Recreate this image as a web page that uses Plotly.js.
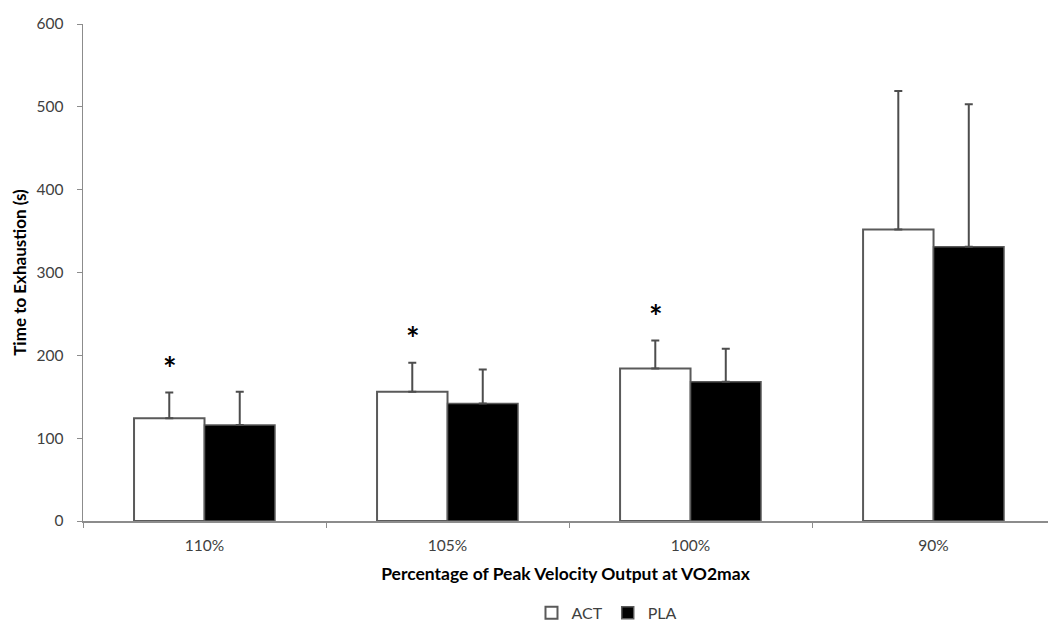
<!DOCTYPE html>
<html>
<head>
<meta charset="utf-8">
<script src="https://cdn.plot.ly/plotly-3.0.1.min.js"></script>
<style>html,body{margin:0;padding:0;background:#fff;}#chart{width:1048px;height:630px;}</style>
</head>
<body>
<div id="chart"></div>
<script>
const categories = ["110%", "105%", "100%", "90%"];
const actMean = [124, 156, 184, 352];
const actSD = [31, 35, 34, 167];
const plaMean = [116, 142, 168, 331];
const plaSD = [40, 41, 40, 172];
const significant = [true, true, true, false];

const FONT = "Lato, 'Open Sans', sans-serif";
const zeros = categories.map(() => 0);

const traces = [
  {
    type: "bar", name: "ACT", x: categories, y: actMean,
    marker: {color: "#ffffff", line: {color: "#5a5a5a", width: 2}},
    error_y: {type: "data", array: actSD, arrayminus: zeros, symmetric: false, color: "#4d4d4d", thickness: 2, width: 4}
  },
  {
    type: "bar", name: "PLA", x: categories, y: plaMean,
    marker: {color: "#000000", line: {color: "#5a5a5a", width: 1.5}},
    error_y: {type: "data", array: plaSD, arrayminus: zeros, symmetric: false, color: "#4d4d4d", thickness: 2, width: 4}
  }
];

const annotations = [];
categories.forEach((c, i) => {
  if (significant[i]) {
    annotations.push({
      x: c, y: actMean[i] + actSD[i], xref: "x", yref: "y",
      text: "<b>*</b>", showarrow: false, xshift: -35, yshift: 24,
      font: {family: FONT, size: 32, color: "#000"}
    });
  }
});

const layout = {
  width: 1048, height: 630,
  margin: {l: 83, r: 0, t: 24, b: 109},
  paper_bgcolor: "#fff", plot_bgcolor: "#fff",
  font: {family: FONT, color: "#595959", size: 15},
  barmode: "group", bargap: 0.42, bargroupgap: 0,
  showlegend: true,
  legend: {orientation: "h", x: 0.543, xanchor: "center", y: -0.185, yanchor: "middle",
           font: {family: FONT, size: 16, color: "#404040"}, traceorder: "normal", itemwidth: 30},
  xaxis: {
    type: "category", range: [-0.5, 3.471],
    showline: true, linecolor: "#8c8c8c", linewidth: 1.5,
    ticks: "outside", tickson: "boundaries", ticklen: 5, tickcolor: "#8c8c8c",
    showgrid: false, zeroline: false,
    ticklabelstandoff: 10,
    tickfont: {family: FONT, size: 15.5, color: "#404040"},
    title: {text: "Percentage of Peak Velocity Output at VO2max", font: {family: FONT, size: 17.5, color: "#000", weight: "bold"}, standoff: 14}
  },
  yaxis: {
    range: [0, 600], dtick: 100, tick0: 0,
    showline: true, linecolor: "#8c8c8c", linewidth: 1.5,
    ticks: "outside", ticklen: 5, tickcolor: "#8c8c8c",
    showgrid: false, zeroline: false,
    ticklabelstandoff: 10,
    tickfont: {family: FONT, size: 15.5, color: "#404040"},
    title: {text: "Time to Exhaustion (s)", font: {family: FONT, size: 17, color: "#000", weight: "bold"}, standoff: 5}
  },
  annotations: annotations
};

Plotly.newPlot("chart", traces, layout, {displayModeBar: false, staticPlot: true});
</script>
</body>
</html>
